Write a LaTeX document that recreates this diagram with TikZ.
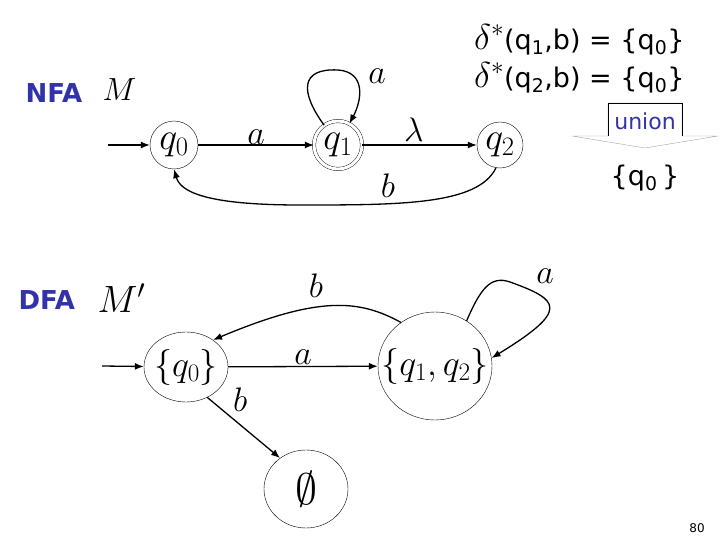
\RequirePackage{fix-cm}
\documentclass[tikz,border=0pt]{standalone}
\usepackage{fontspec}
\usetikzlibrary{arrows.meta,shapes.geometric}
\newfontfamily\lblfont{DejaVu Sans}
\definecolor{lblblue}{RGB}{50,50,170}
\newcommand{\bigdelta}{{\fontsize{36}{40}\selectfont$\delta^{*}$}}
\begin{document}
\begin{tikzpicture}[x=1pt,y=-1pt,
  state/.style={draw,circle,thin,inner sep=0pt,font=\fontsize{38}{42}\selectfont},
  setstate/.style={draw,ellipse,thin,inner sep=-16pt,font=\fontsize{36}{40}\selectfont},
  edge/.style={line width=1.3pt,-{Latex[length=9pt,width=7pt]}},
  elabel/.style={font=\fontsize{34}{38}\selectfont},
  title/.style={text=lblblue,font=\lblfont\bfseries\fontsize{26}{30}\selectfont},
  eq/.style={font=\lblfont\fontsize{27}{32}\selectfont}]
\useasboundingbox (0,0) rectangle (720,540);
% ---------- NFA ----------
\node[title,anchor=west] (nfa) at (22,93) {NFA};
\node[font=\fontsize{32}{36}\selectfont,anchor=west] (M) at (99,90) {$M$};
\node[state,minimum size=48pt] (q0) at (174,145) {$q_0$};
\node[state,double,double distance=3pt,minimum size=48pt] (q1) at (338,145) {$q_1$};
\node[state,minimum size=46pt] (q2) at (500,145) {$q_2$};
\coordinate (s0) at (108,145);
\draw[edge] (s0) -- (q0);
\draw[edge] (q0) -- node[elabel,above,yshift=-3pt] {$a$} (q1);
\draw[edge] (q1) -- node[elabel,above,pos=0.45] {$\lambda$} (q2);
\draw[edge] (q1.125) .. controls (300,92) and (300,68) .. (338,70) .. controls (366,72) and (362,100) .. (q1.62);
\node[elabel] (la1) at (377,76) {$a$};
\draw[edge] (q2.260) .. controls (478,205) and (400,205) .. (300,205) .. controls (200,205) and (180,190) .. (q0.270);
\node[elabel] (lb1) at (388,186) {$b$};
% ---------- equations ----------
\node[eq,anchor=east] (e1) at (688,40) {\bigdelta(q\textsubscript{1},b) = \{q\textsubscript{0}\}};
\node[eq,anchor=east] (e2) at (688,78) {\bigdelta(q\textsubscript{2},b) = \{q\textsubscript{0}\}};
\draw[gray!70,fill=white,thin] (608,136) -- (608,103) -- (682,103) -- (682,136) -- (718,136) -- (645,148) -- (572,136) -- cycle;
\draw[black,thin] (608,136) -- (608,103) -- (682,103) -- (682,136);
\node[title,font=\lblfont\fontsize{22}{26}\selectfont] (un) at (645,121) {union};
\node[eq] (r) at (645,178) {\{q\textsubscript{0}\,\}};
% ---------- DFA ----------
\node[title,anchor=west] (dfa) at (15,300) {DFA};
\node[font=\fontsize{38}{42}\selectfont,anchor=west] (Mp) at (94,298) {$M'$};
\node[setstate,minimum width=84pt,minimum height=70pt] (p0) at (186,367) {$\{q_0\}$};
\node[setstate,minimum width=114pt,minimum height=108pt] (p1) at (435,366) {$\{q_1,q_2\}$};
\node[setstate,minimum width=84pt,minimum height=78pt,font=\fontsize{44}{48}\selectfont] (pe) at (306,489) {$\emptyset$};
\coordinate (s1) at (102,366);
\draw[edge] (s1) -- (p0);
\draw[edge] (p0) -- node[elabel,above,yshift=-2pt] {$a$} (p1);
\draw[edge] (p1.128) .. controls (360,300) and (320,295) .. (p0.45);
\node[elabel] (lb2) at (316,286) {$b$};
\draw[edge] (p1.55) .. controls (480,290) and (490,275) .. (510,282) .. controls (560,300) and (570,310) .. (p1.8);
\node[elabel] (la2) at (545,276) {$a$};
\draw[edge] (p0.-55) -- node[elabel,above right,pos=0.3] {$b$} (pe.130);
\node[font=\lblfont\fontsize{12}{14}\selectfont] (pg) at (697,528) {80};
\end{tikzpicture}
\end{document}
